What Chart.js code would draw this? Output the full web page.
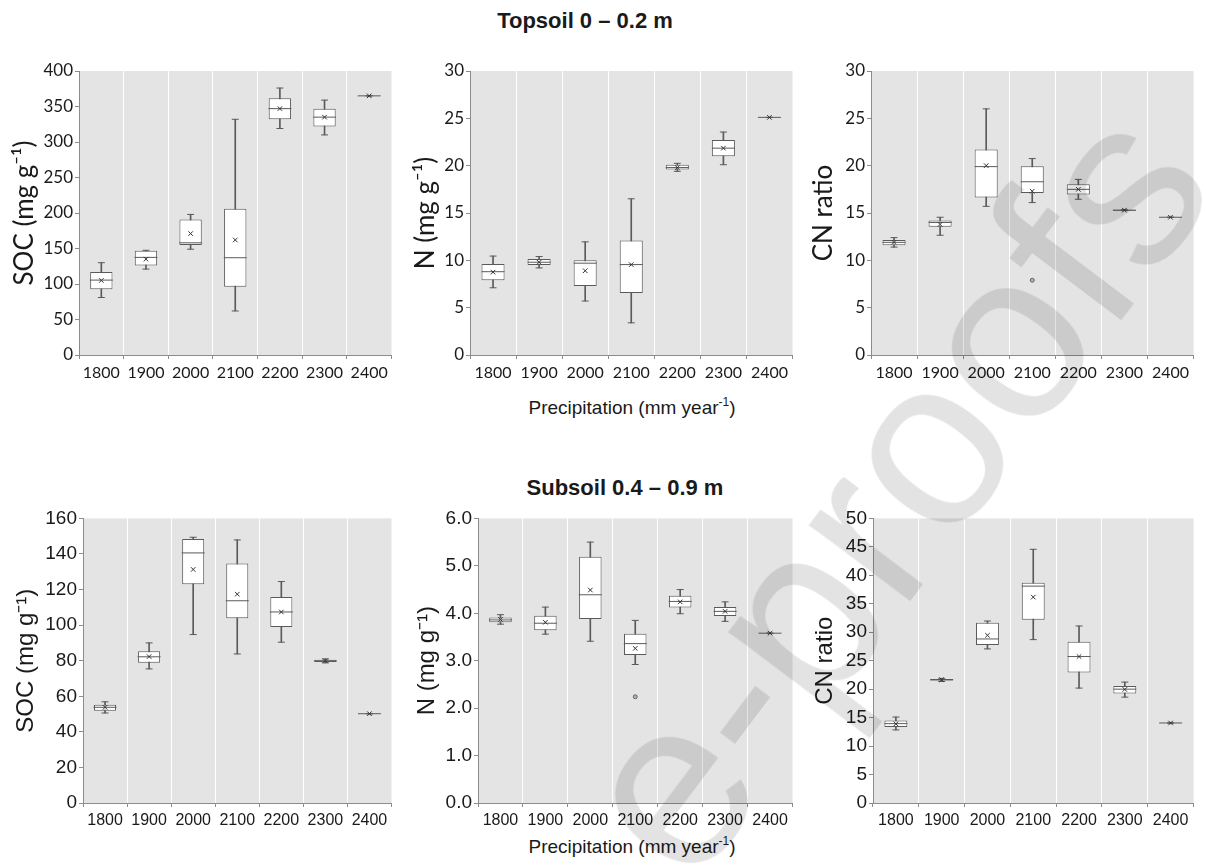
<!DOCTYPE html>
<html>
<head>
<meta charset="utf-8">
<script src="https://cdn.jsdelivr.net/npm/chart.js@4.4.1/dist/chart.umd.min.js"></script>
<style>
  body { margin: 0; background: #fff; width: 1206px; height: 868px; position: relative; overflow: hidden;
         font-family: "Liberation Sans", Arial, sans-serif; color: #1a1a1a; }
  canvas { position: absolute; }
  .head { position: absolute; font-weight: bold; font-size: 22px; white-space: nowrap; transform: translate(-50%, -50%); }
  .xlab { position: absolute; font-size: 19px; white-space: nowrap; transform: translate(-50%, -50%); }
  .xlab sup { font-size: 12px; }
  .mark { position: absolute; left: 890px; top: 490px; font-size: 240px; white-space: nowrap;
          color: rgba(0,0,0,0.11); transform: translate(-50%, -50%) rotate(-53deg); pointer-events: none; }
</style>
</head>
<body>
<div class="head" style="left:585px; top:21px;">Topsoil 0 – 0.2 m</div>
<div class="head" style="left:625px; top:488px;">Subsoil 0.4 – 0.9 m</div>
<div class="xlab" style="left:632px; top:407px;">Precipitation (mm year<sup>-1</sup>)</div>
<div class="xlab" style="left:632px; top:846px;">Precipitation (mm year<sup>-1</sup>)</div>

<canvas id="socTop" width="404" height="345" style="left:0px; top:50px;"></canvas>
<canvas id="nTop" width="399" height="345" style="left:406px; top:50px;"></canvas>
<canvas id="cnTop" width="400" height="345" style="left:806px; top:50px;"></canvas>
<canvas id="socSub" width="404" height="340" style="left:0px; top:505px;"></canvas>
<canvas id="nSub" width="399" height="340" style="left:406px; top:505px;"></canvas>
<canvas id="cnSub" width="400" height="340" style="left:806px; top:505px;"></canvas>

<div class="mark">e-proofs</div>

<script>
var years = ["1800", "1900", "2000", "2100", "2200", "2300", "2400"];

// Topsoil 0 - 0.2 m
var socTopMin  = [81, 121, 149, 62, 319, 310, 365];
var socTopQ1   = [92.5, 126, 155, 96, 332, 322, 365];
var socTopMed  = [105.5, 137.5, 158, 137, 347, 335, 365];
var socTopQ3   = [117, 147, 191, 206, 361.5, 347, 365];
var socTopMax  = [130, 147.5, 198, 332, 376, 359, 365];
var socTopMean = [105, 135, 171, 162, 347, 335, 365];

var nTopMin  = [7.1, 9.2, 5.7, 3.4, 19.4, 20.1, 25.1];
var nTopQ1   = [7.9, 9.5, 7.3, 6.55, 19.6, 21.0, 25.1];
var nTopMed  = [8.8, 9.8, 9.7, 9.55, 19.8, 21.85, 25.1];
var nTopQ3   = [9.6, 10.15, 10.0, 12.1, 20.1, 22.7, 25.1];
var nTopMax  = [10.45, 10.4, 11.95, 16.5, 20.25, 23.55, 25.1];
var nTopMean = [8.75, 9.8, 8.9, 9.55, 19.8, 21.85, 25.1];

var cnTopMin  = [11.4, 12.65, 15.7, 16.1, 16.45, 15.25, 14.55];
var cnTopQ1   = [11.6, 13.55, 16.65, 17.1, 16.95, 15.25, 14.55];
var cnTopMed  = [11.9, 14.0, 19.9, 18.3, 17.5, 15.3, 14.55];
var cnTopQ3   = [12.15, 14.2, 21.7, 19.95, 18.05, 15.35, 14.55];
var cnTopMax  = [12.4, 14.55, 26.0, 20.75, 18.55, 15.35, 14.55];
var cnTopMean = [11.9, 13.8, 20.0, 17.3, 17.5, 15.3, 14.55];
var cnTopOut  = [null, null, null, 7.9, null, null, null];

// Subsoil 0.4 - 0.9 m
var socSubMin  = [50.6, 75.4, 94.7, 83.8, 90.4, 78.8, 50.2];
var socSubQ1   = [51.9, 78.8, 123, 103.8, 98.9, 79.2, 50.2];
var socSubMed  = [53.8, 82.2, 140.6, 113.7, 107.4, 79.9, 50.2];
var socSubQ3   = [55.3, 85.3, 148.4, 134.6, 115.8, 80.6, 50.2];
var socSubMax  = [56.9, 90, 149.4, 147.9, 124.5, 81, 50.2];
var socSubMean = [53.8, 82.3, 131.3, 117.4, 107.4, 79.9, 50.2];

var nSubMin  = [3.77, 3.56, 3.41, 2.92, 3.99, 3.83, 3.58];
var nSubQ1   = [3.81, 3.64, 3.88, 3.12, 4.12, 3.94, 3.58];
var nSubMed  = [3.86, 3.79, 4.39, 3.36, 4.25, 4.04, 3.58];
var nSubQ3   = [3.91, 3.95, 5.19, 3.57, 4.37, 4.13, 3.58];
var nSubMax  = [3.97, 4.13, 5.5, 3.85, 4.5, 4.24, 3.58];
var nSubMean = [3.87, 3.81, 4.49, 3.26, 4.24, 4.04, 3.58];
var nSubOut  = [null, null, null, 2.24, null, null, null];

var cnSubMin  = [12.84, 21.35, 27.07, 28.7, 20.19, 18.6, 14.06];
var cnSubQ1   = [13.36, 21.5, 27.77, 32.2, 22.93, 19.25, 14.06];
var cnSubMed  = [13.94, 21.65, 28.82, 38.1, 25.73, 20.0, 14.06];
var cnSubQ3   = [14.5, 21.8, 31.68, 38.68, 28.35, 20.54, 14.06];
var cnSubMax  = [15.1, 21.9, 31.97, 44.57, 31.1, 21.24, 14.06];
var cnSubMean = [13.9, 21.65, 29.46, 36.17, 25.73, 19.95, 14.06];

var stroke = "#5a5a5a";
var axisGrey = "#8c8c8c";

var plotBg = {
  id: "plotBg",
  beforeDraw: function(chart) {
    var a = chart.chartArea, c = chart.ctx;
    c.save();
    c.fillStyle = "#e4e4e4";
    c.fillRect(a.left, a.top, a.right - a.left, a.bottom - a.top);
    c.restore();
  }
};

function pointSet(data, style, radius, color, order) {
  return {
    type: "line", data: data, showLine: false, order: order,
    pointStyle: style, pointRadius: radius, pointHoverRadius: radius,
    pointBorderColor: color, pointBackgroundColor: "#b0b0b0", pointBorderWidth: 1
  };
}

function boxChart(id, p) {
  var datasets = [
    { // whiskers
      data: years.map(function(y, i) { return [p.min[i], p.max[i]]; }),
      backgroundColor: stroke, barThickness: 1, grouped: false, order: 6
    },
    { // boxes
      data: years.map(function(y, i) { return [p.q1[i], p.q3[i]]; }),
      backgroundColor: "#ffffff", borderColor: stroke, borderWidth: 1, borderSkipped: false,
      barPercentage: 0.5, categoryPercentage: 1, grouped: false, order: 5
    },
    pointSet(p.min, "line", 3.5, stroke, 3),
    pointSet(p.max, "line", 3.5, stroke, 3),
    pointSet(p.med, "line", 11.5, stroke, 2),
    pointSet(p.mean, "crossRot", 3.2, "#333333", 1)
  ];
  if (p.out) datasets.push(pointSet(p.out, "circle", 2, "#666666", 1));

  new Chart(document.getElementById(id), {
    type: "bar",
    data: { labels: years, datasets: datasets },
    plugins: [plotBg],
    options: {
      responsive: false,
      animation: false,
      events: [],
      layout: { padding: { top: p.padTop, right: p.padRight, left: 0, bottom: 0 } },
      plugins: { legend: { display: false }, tooltip: { enabled: false } },
      scales: {
        x: {
          offset: true,
          grid: {
            color: function(ctx) { return ctx.index > 0 ? "#ffffff" : "rgba(0,0,0,0)"; },
            tickColor: axisGrey, tickLength: 4, lineWidth: 1
          },
          border: { color: axisGrey },
          ticks: { font: { family: p.font, size: p.xSize }, color: "#1a1a1a", padding: 4,
                   maxRotation: 0, autoSkip: false },
          afterFit: function(s) { s.height = p.xHeight; }
        },
        y: {
          min: p.yMin, max: p.yMax,
          grid: { drawOnChartArea: false, tickColor: axisGrey, tickLength: 4 },
          border: { color: axisGrey },
          ticks: {
            stepSize: p.step, font: { family: p.font, size: p.ySize }, color: "#1a1a1a", padding: 2,
            callback: function(v) { return p.decimals ? v.toFixed(p.decimals) : v; }
          },
          title: {
            display: true, text: p.title,
            font: { family: p.font, size: p.titleSize, lineHeight: 1 },
            color: "#1a1a1a", padding: { top: p.titlePad, bottom: 0 }
          },
          afterFit: function(s) { s.width = p.yWidth; }
        }
      }
    }
  });
}

var topFont = "Lato, 'Open Sans', sans-serif";
var subFont = "'Liberation Sans', Arial, sans-serif";

boxChart("socTop", { min: socTopMin, q1: socTopQ1, med: socTopMed, q3: socTopQ3, max: socTopMax, mean: socTopMean,
  yMin: 0, yMax: 400, step: 50, title: "SOC (mg g\u207B\u00B9)", font: topFont, xSize: 16, ySize: 17, titleSize: 26,
  titlePad: 12, yWidth: 79, xHeight: 40, padTop: 21, padRight: 5 });
boxChart("nTop", { min: nTopMin, q1: nTopQ1, med: nTopMed, q3: nTopQ3, max: nTopMax, mean: nTopMean,
  yMin: 0, yMax: 30, step: 5, title: "N (mg g\u207B\u00B9)", font: topFont, xSize: 16, ySize: 17, titleSize: 26,
  titlePad: 7, yWidth: 64, xHeight: 40, padTop: 21, padRight: 5 });
boxChart("cnTop", { min: cnTopMin, q1: cnTopQ1, med: cnTopMed, q3: cnTopQ3, max: cnTopMax, mean: cnTopMean, out: cnTopOut,
  yMin: 0, yMax: 30, step: 5, title: "CN ratio", font: topFont, xSize: 16, ySize: 17, titleSize: 26,
  titlePad: 5, yWidth: 65, xHeight: 40, padTop: 21, padRight: 6 });

boxChart("socSub", { min: socSubMin, q1: socSubQ1, med: socSubMed, q3: socSubQ3, max: socSubMax, mean: socSubMean,
  yMin: 0, yMax: 160, step: 20, title: "SOC (mg g\u207B\u00B9)", font: subFont, xSize: 16, ySize: 19, titleSize: 24,
  titlePad: 14, yWidth: 83, xHeight: 42, padTop: 13, padRight: 5 });
boxChart("nSub", { min: nSubMin, q1: nSubQ1, med: nSubMed, q3: nSubQ3, max: nSubMax, mean: nSubMean, out: nSubOut,
  yMin: 0, yMax: 6, step: 1, decimals: 1, title: "N (mg g\u207B\u00B9)", font: subFont, xSize: 16, ySize: 19, titleSize: 24,
  titlePad: 9, yWidth: 72, xHeight: 42, padTop: 13, padRight: 5 });
boxChart("cnSub", { min: cnSubMin, q1: cnSubQ1, med: cnSubMed, q3: cnSubQ3, max: cnSubMax, mean: cnSubMean,
  yMin: 0, yMax: 50, step: 5, title: "CN ratio", font: subFont, xSize: 16, ySize: 19, titleSize: 24,
  titlePad: 7, yWidth: 67, xHeight: 42, padTop: 13, padRight: 6 });
</script>
</body>
</html>
